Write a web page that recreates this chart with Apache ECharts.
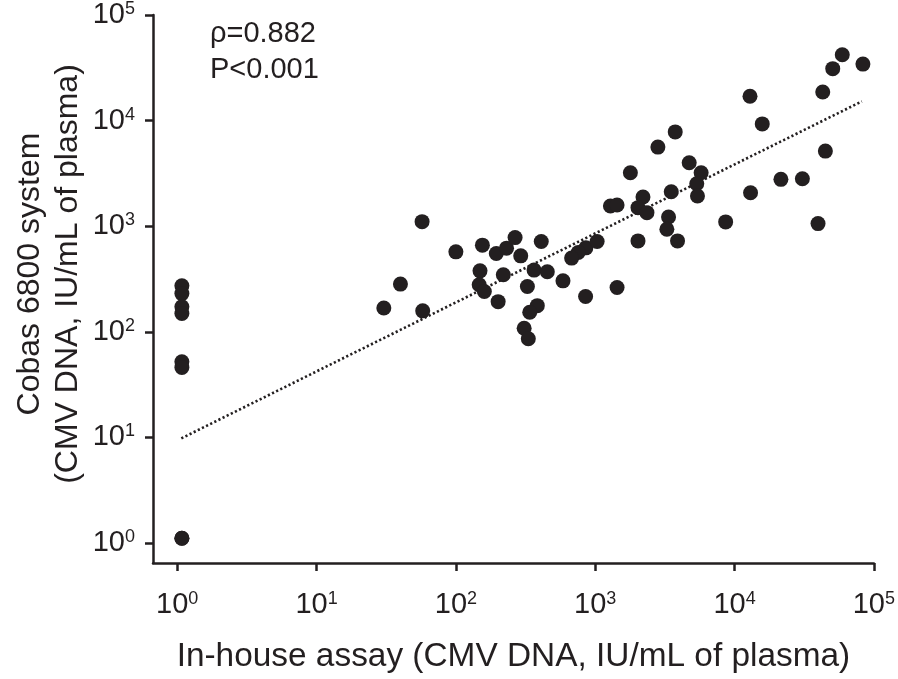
<!DOCTYPE html>
<html><head><meta charset="utf-8">
<script src="https://cdn.jsdelivr.net/npm/echarts@6/dist/echarts.min.js"></script>
<style>html,body{margin:0;padding:0;background:#fff}#c{width:898px;height:679px}</style>
</head><body><div id="c"></div>
<script>
const tickValues = [1, 10, 100, 1000, 10000, 100000];
const inHouse = [1.08, 1.08, 1.08, 1.08, 1.08, 1.08, 1.08, 1.08,
  30.4, 40.0, 57.8, 57.2, 100, 155, 195, 231, 266, 410, 292, 149, 219, 364, 453, 587,
  147, 160, 326, 201, 853, 1435, 384, 339, 309, 331, 857, 755, 677, 1032, 2028, 3898,
  1286, 1435, 2202, 2028, 2351, 3360, 3268, 3513, 1788, 2818, 3752, 4727, 5757, 5356,
  5420, 8635, 13030, 12910, 15810, 21520, 30690, 44870, 39740, 42960, 50680, 59330, 83440];
const cobas = [273, 230, 173, 149, 52, 46, 1.11, 1.11,
  168, 283, 158, 1105, 572, 662, 551, 620, 780, 716, 524, 378, 347, 384, 370, 304,
  279, 241, 269, 193, 216, 263, 177, 153, 108, 86, 624, 563, 499, 716, 726, 726,
  1556, 1589, 1891, 1499, 1344, 1224, 937, 2122, 3207, 5610, 7820, 3988, 3207, 2525,
  1932, 1098, 2077, 16990, 9310, 2779, 2813, 5142, 1059, 18670, 31050, 42090, 34290];
const trendX = [1.07, 82000];
const trendY = [9.8, 15200];
const annotations = ['ρ=0.882', 'P<0.001'];
const xTitle = 'In-house assay (CMV DNA, IU/mL of plasma)';
const yTitle = ['Cobas 6800 system', '(CMV DNA, IU/mL of plasma)'];

const ink = '#231f20';
const font = '"Liberation Sans", Arial, sans-serif';

function supLabel(v) {
  const e = Math.round(Math.log10(v));
  if (Math.abs(Math.log10(v) - e) > 1e-6) return '';
  return '{b|10}{s|' + e + '}';
}
const richLab = {
  b: {fontSize: 29, fontFamily: font, color: ink, lineHeight: 30},
  s: {fontSize: 18, fontFamily: font, color: ink, verticalAlign: 'top', lineHeight: 30, padding: [0, 0, 12, 0]}
};
const axisCommon = {
  type: 'log', logBase: 10, max: 100000,
  splitLine: {show: false},
  axisLine: {show: true, lineStyle: {color: ink, width: 2.5}},
  axisTick: {show: true, length: 8, lineStyle: {color: ink, width: 2.5}, customValues: tickValues},
  nameTextStyle: {fontFamily: font, fontSize: 33, color: ink}
};

const chart = echarts.init(document.getElementById('c'), null, {renderer: 'canvas'});
chart.setOption({
  animation: false,
  backgroundColor: '#fff',
  grid: {left: 153, right: 22, top: 13, bottom: 116, containLabel: false},
  xAxis: Object.assign({}, axisCommon, {
    min: 0.67,
    name: xTitle, nameLocation: 'middle', nameGap: 77,
    nameTextStyle: {fontFamily: font, fontSize: 33.4, color: ink},
    axisLabel: {margin: 27, formatter: supLabel, rich: richLab, customValues: tickValues}
  }),
  yAxis: Object.assign({}, axisCommon, {
    min: 0.647,
    axisLabel: {margin: 18, formatter: supLabel, rich: richLab, customValues: tickValues}
  }),
  graphic: [
    {
      type: 'text', left: 210, top: 16,
      style: {text: annotations.join('\n'), font: '29px ' + font, fill: ink, lineHeight: 36}
    },
    {
      type: 'text', x: 30, y: 274, rotation: Math.PI / 2,
      style: {text: yTitle[0], font: '32px ' + font, fill: ink, align: 'center', verticalAlign: 'middle'}
    },
    {
      type: 'text', x: 68, y: 274, rotation: Math.PI / 2,
      style: {text: yTitle[1], font: '32px ' + font, fill: ink, align: 'center', verticalAlign: 'middle'}
    }
  ],
  series: [
    {
      type: 'scatter', symbol: 'circle', symbolSize: 15,
      itemStyle: {color: ink, opacity: 1},
      data: inHouse.map((x, i) => [x, cobas[i]]),
      z: 3
    },
    {
      type: 'line', showSymbol: false, silent: true,
      lineStyle: {color: ink, width: 2.6, type: [2.2, 2.4]},
      data: trendX.map((x, i) => [x, trendY[i]]),
      z: 2
    }
  ]
});
</script>
</body></html>
